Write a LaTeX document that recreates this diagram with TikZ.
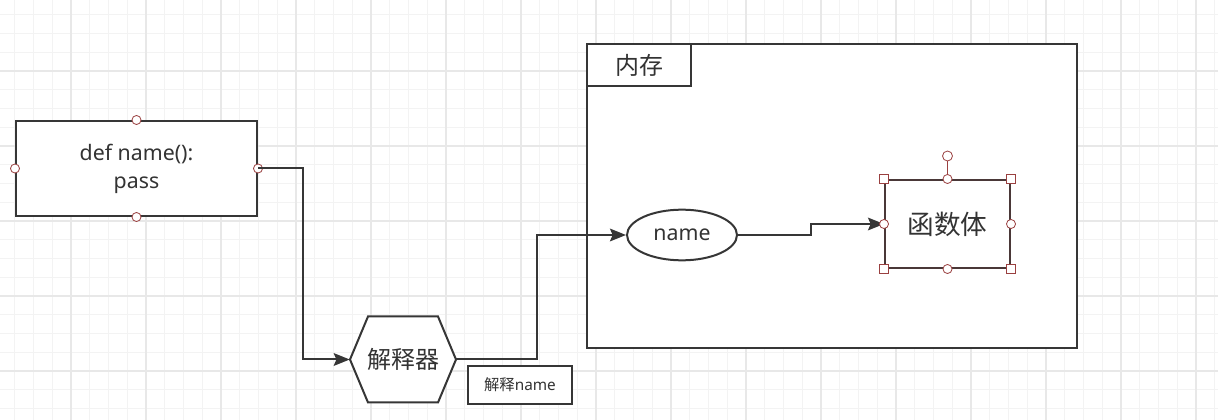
\documentclass[tikz,border=0pt]{standalone}
\usepackage{fontspec}
\setmainfont{Noto Sans}
\newfontfamily\cjk{Noto Sans CJK SC}
\usetikzlibrary{arrows.meta,shapes.geometric}

\definecolor{lineclr}{HTML}{363636}
\definecolor{textclr}{HTML}{333333}
\definecolor{handle}{HTML}{9A4040}
\definecolor{selclr}{HTML}{4A3838}
\definecolor{gridminor}{HTML}{F3F3F3}
\definecolor{gridmajor}{HTML}{E8E8E8}

\begin{document}
\begin{tikzpicture}[
  x=0.75pt, y=-0.75pt,          % <-- 1 unit = 1 px, y down
  box/.style={rectangle, draw=lineclr, line width=1.5pt, fill=white, inner sep=0pt, align=center, text=textclr},
  conn/.style={line width=1.5pt, draw=lineclr, -{Stealth[length=12pt, width=9.5pt, inset=2pt]}},
  hdl/.style={circle, draw=handle, fill=white, line width=0.6pt, minimum size=6.8pt, inner sep=0pt},
  hsq/.style={rectangle, draw=handle, fill=white, line width=0.6pt, minimum size=6.3pt, inner sep=0pt},
  latin/.style={font=\fontsize{16}{21}\selectfont},
  cjkbig/.style={font=\cjk\fontsize{18}{20}\selectfont}
]
\useasboundingbox (0,0) rectangle (1218,420);

% ===================== grid =====================
\fill[white] (0,0) rectangle (1218,420);
\foreach \k in {0,...,66} \draw[gridminor, line width=0.8pt] ({-4+18.75*\k},0) -- ++(0,420);
\foreach \k in {0,...,23} \draw[gridminor, line width=0.8pt] (0,{-4+18.75*\k}) -- ++(1218,0);
\foreach \k in {0,...,16} \draw[gridmajor, line width=0.8pt] ({-4+75*\k},0) -- ++(0,420);
\foreach \k in {0,...,6}  \draw[gridmajor, line width=0.8pt] (0,{-4+75*\k}) -- ++(1218,0);

% ===================== memory frame =====================
\node[box, minimum width=367.5pt, minimum height=228pt] (mem) at (832,196) {};
\node[box, minimum width=78pt, minimum height=31.5pt, anchor=north west, cjkbig] (memtab) at (mem.north west) {内存};

% ===================== source code =====================
\node[box, minimum width=180.75pt, minimum height=71.25pt, latin] (def) at (136.5,168.5) {def name():\\pass};
\foreach \a in {north,south,east,west}
  \node[hdl] (def-\a) at (def.\a) {};

% ===================== interpreter =====================
\draw[line width=1.5pt, draw=lineclr, fill=white]
  (350,359.5) -- (368,316.5) -- (438,316.5) -- (456,359.5) -- (438,402.5) -- (368,402.5) -- cycle;
\node[cjkbig, text=textclr, minimum width=79.5pt, minimum height=64.5pt, inner sep=0pt] (interp) at (403,359.5) {解释器};

\node[box, minimum width=78pt, minimum height=28.5pt, font=\fontsize{11.5}{13}\selectfont] (tag) at (520,385) {{\cjk 解释}name};

% ===================== name + function body =====================
\node[ellipse, draw=lineclr, line width=1.5pt, fill=white, text=textclr, minimum width=82.5pt, minimum height=38pt, inner sep=0pt, latin] (nm) at (682,235) {name};

\node[box, draw=selclr, minimum width=93.75pt, minimum height=66pt, font=\cjk\fontsize{20}{22}\selectfont] (body) at (947.5,224) {函数体};

% Connectors
\coordinate (bend1) at (303,359.5);
\coordinate (bend2) at (537,235);
\coordinate (bend3) at (811,224);
\draw[conn] (def.east) -| (bend1) -- (interp.west);
\draw[conn] (interp.east) -| (bend2) -- (nm.west);
\draw[conn] (nm.east) -| (bend3) -- (body.west);

% Selection handles
\coordinate (rot) at (947.5,156);
\draw[handle, line width=0.6pt] (body.north) -- (rot);
\node[hdl, minimum size=7.5pt] (body-rot) at (rot) {};
\foreach \a in {north east,north west,south east,south west}
  \node[hsq] (body-\a) at (body.\a) {};
\foreach \a in {north,south,east,west}
  \node[hdl] (body-\a) at (body.\a) {};

\end{tikzpicture}
\end{document}
